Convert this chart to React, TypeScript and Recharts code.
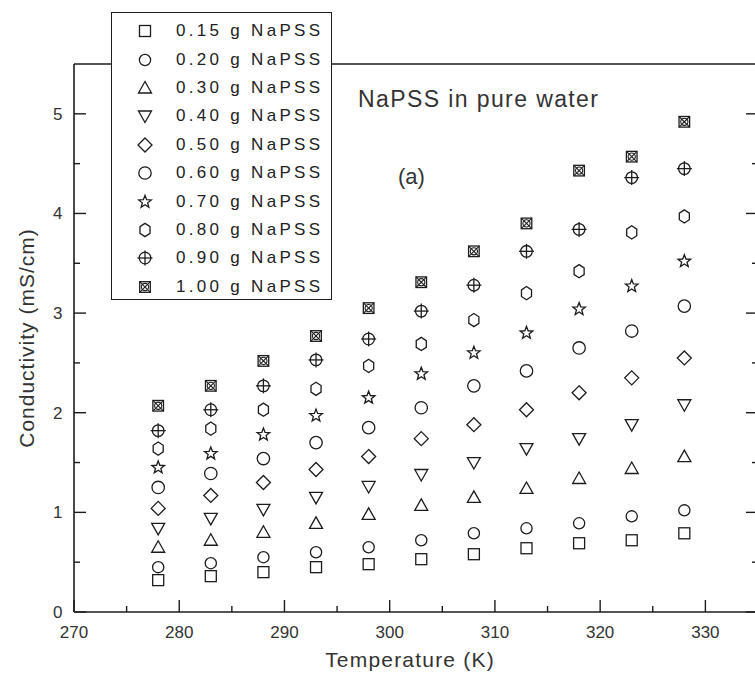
import React from "react";
import { ScatterChart, Scatter, XAxis, YAxis, Legend } from "recharts";

// temperatures (K) at which every sample was measured
const temperatures = [278, 283, 288, 293, 298, 303, 308, 313, 318, 323, 328];

// conductivity (mS/cm), one list per NaPSS amount
const g015 = [0.32, 0.36, 0.4, 0.45, 0.48, 0.53, 0.58, 0.64, 0.69, 0.72, 0.79];
const g020 = [0.45, 0.49, 0.55, 0.6, 0.65, 0.72, 0.79, 0.84, 0.89, 0.96, 1.02];
const g030 = [0.65, 0.72, 0.8, 0.89, 0.98, 1.07, 1.15, 1.24, 1.34, 1.44, 1.56];
const g040 = [0.84, 0.94, 1.03, 1.15, 1.26, 1.38, 1.5, 1.64, 1.74, 1.88, 2.08];
const g050 = [1.04, 1.17, 1.3, 1.43, 1.56, 1.74, 1.88, 2.03, 2.2, 2.35, 2.55];
const g060 = [1.25, 1.39, 1.54, 1.7, 1.85, 2.05, 2.27, 2.42, 2.65, 2.82, 3.07];
const g070 = [1.45, 1.59, 1.78, 1.97, 2.15, 2.39, 2.6, 2.8, 3.04, 3.27, 3.52];
const g080 = [1.64, 1.84, 2.03, 2.24, 2.47, 2.69, 2.93, 3.2, 3.42, 3.81, 3.97];
const g090 = [1.82, 2.03, 2.27, 2.53, 2.74, 3.02, 3.28, 3.62, 3.84, 4.36, 4.45];
const g100 = [2.07, 2.27, 2.52, 2.77, 3.05, 3.31, 3.62, 3.9, 4.43, 4.57, 4.92];

const seriesNames = [
  "0.15 g NaPSS",
  "0.20 g NaPSS",
  "0.30 g NaPSS",
  "0.40 g NaPSS",
  "0.50 g NaPSS",
  "0.60 g NaPSS",
  "0.70 g NaPSS",
  "0.80 g NaPSS",
  "0.90 g NaPSS",
  "1.00 g NaPSS",
];
const seriesValues = [g015, g020, g030, g040, g050, g060, g070, g080, g090, g100];
const markerKinds = [
  "square",
  "circle",
  "triUp",
  "triDown",
  "diamond",
  "circleBig",
  "star",
  "hexagon",
  "circlePlus",
  "circleCross",
];

const xTicks = [270, 275, 280, 285, 290, 295, 300, 305, 310, 315, 320, 325, 330, 335];
const yTicks = [0, 0.5, 1, 1.5, 2, 2.5, 3, 3.5, 4, 4.5, 5];

const INK = "#1c1c1c";
const TEXT = "#333";
const FONT = "'Liberation Sans', Arial, sans-serif";

function Marker({ kind, cx, cy }: { kind: string; cx: number; cy: number }) {
  const st = { fill: "#fff", stroke: INK, strokeWidth: 1.3 };
  const poly = (pts: number[][]) => pts.map((p) => `${cx + p[0]},${cy + p[1]}`).join(" ");
  switch (kind) {
    case "square":
      return <rect x={cx - 5.5} y={cy - 5.5} width={11} height={11} {...st} />;
    case "circle":
      return <circle cx={cx} cy={cy} r={5.6} {...st} />;
    case "circleBig":
      return <circle cx={cx} cy={cy} r={6.2} {...st} />;
    case "triUp":
      return <polygon points={poly([[0, -6.5], [6.5, 5], [-6.5, 5]])} {...st} />;
    case "triDown":
      return <polygon points={poly([[0, 6.5], [6.5, -5], [-6.5, -5]])} {...st} />;
    case "diamond":
      return <polygon points={poly([[0, -7], [7, 0], [0, 7], [-7, 0]])} {...st} />;
    case "hexagon": {
      const pts: number[][] = [];
      for (let k = 0; k < 6; k++) {
        const a = (Math.PI / 3) * k - Math.PI / 2;
        pts.push([5.8 * Math.cos(a), 6.6 * Math.sin(a)]);
      }
      return <polygon points={poly(pts)} {...st} />;
    }
    case "star": {
      const pts: number[][] = [];
      for (let k = 0; k < 10; k++) {
        const a = (Math.PI / 5) * k - Math.PI / 2;
        const r = k % 2 === 0 ? 6.6 : 2.8;
        pts.push([r * Math.cos(a), r * Math.sin(a)]);
      }
      return <polygon points={poly(pts)} {...st} />;
    }
    case "circlePlus":
      return (
        <g>
          <circle cx={cx} cy={cy} r={5.8} {...st} />
          <line x1={cx - 7.5} x2={cx + 7.5} y1={cy} y2={cy} stroke={INK} strokeWidth={1.3} />
          <line x1={cx} x2={cx} y1={cy - 7.5} y2={cy + 7.5} stroke={INK} strokeWidth={1.3} />
        </g>
      );
    case "circleCross":
      return (
        <g>
          <rect x={cx - 5.3} y={cy - 5.3} width={10.6} height={10.6} {...st} />
          <circle cx={cx} cy={cy} r={3.6} fill="none" stroke={INK} strokeWidth={1.1} />
          <line x1={cx - 5.3} x2={cx + 5.3} y1={cy - 5.3} y2={cy + 5.3} stroke={INK} strokeWidth={1.1} />
          <line x1={cx - 5.3} x2={cx + 5.3} y1={cy + 5.3} y2={cy - 5.3} stroke={INK} strokeWidth={1.1} />
        </g>
      );
    default:
      return null;
  }
}

const shapeFor = (kind: string) => (props: any) => <Marker kind={kind} cx={props.cx} cy={props.cy} />;

function BottomTick({ x, y, payload }: any) {
  const major = payload.value % 10 === 0;
  return (
    <g>
      <line x1={x} x2={x} y1={y} y2={y - (major ? 12 : 6)} stroke={INK} strokeWidth={1.4} />
      {major && (
        <text x={x} y={y + 26} textAnchor="middle" fontSize={17} fill={TEXT} fontFamily={FONT}>
          {payload.value}
        </text>
      )}
    </g>
  );
}

// top axis: height 1, so its x/y sit one pixel above the frame line
function TopTick({ x, y, payload }: any) {
  const major = payload.value % 10 === 0;
  return <line x1={x} x2={x} y1={y + 1} y2={y + 1 + (major ? 12 : 6)} stroke={INK} strokeWidth={1.4} />;
}

function LeftTick({ x, y, payload }: any) {
  const major = Number.isInteger(payload.value);
  return (
    <g>
      <line x1={x} x2={x + (major ? 12 : 6)} y1={y} y2={y} stroke={INK} strokeWidth={1.4} />
      {major && (
        <text x={x - 11.5} y={y + 6} textAnchor="end" fontSize={17} fill={TEXT} fontFamily={FONT}>
          {payload.value}
        </text>
      )}
    </g>
  );
}

function RightTick({ x, y, payload }: any) {
  const major = Number.isInteger(payload.value);
  return <line x1={x} x2={x - (major ? 12 : 6)} y1={y} y2={y} stroke={INK} strokeWidth={1.4} />;
}

function LegendBox({ payload }: any) {
  const items = (payload || []).map((p: any) => p.value);
  return (
    <div
      style={{
        width: 221,
        height: 288,
        boxSizing: "border-box",
        border: `1.6px solid ${INK}`,
        background: "#fff",
        paddingTop: 4,
      }}
    >
      {items.map((name: string) => {
        const idx = seriesNames.indexOf(name);
        return (
          <div key={name} style={{ height: 28.4, display: "flex", alignItems: "center" }}>
            <svg width={20} height={20} style={{ marginLeft: 23, flex: "none" }}>
              <Marker kind={markerKinds[idx]} cx={10} cy={10} />
            </svg>
            <span
              style={{
                marginLeft: 21,
                fontFamily: FONT,
                fontSize: 17,
                letterSpacing: 3.3,
                color: "#222",
                whiteSpace: "nowrap",
              }}
            >
              {name}
            </span>
          </div>
        );
      })}
    </div>
  );
}

export default function App() {
  const axisLine = { stroke: INK, strokeWidth: 1.6 };
  return (
    <div
      style={{
        position: "absolute",
        left: 0,
        top: 0,
        width: 755,
        height: 688,
        overflow: "hidden",
        background: "#fff",
      }}
    >
      <ScatterChart width={800} height={688} margin={{ top: 63, right: 41, bottom: 0, left: 0 }}>
        <XAxis
          dataKey="t"
          type="number"
          domain={[270, 335]}
          ticks={xTicks}
          interval={0}
          allowDataOverflow
          height={76}
          tickSize={0}
          tickMargin={0}
          tickLine={false}
          axisLine={axisLine}
          tick={<BottomTick />}
        />
        <XAxis
          xAxisId="top"
          orientation="top"
          type="number"
          domain={[270, 335]}
          ticks={xTicks}
          interval={0}
          allowDataOverflow
          height={1}
          tickSize={0}
          tickMargin={0}
          tickLine={false}
          axisLine={axisLine}
          tick={<TopTick />}
        />
        <YAxis
          dataKey="v"
          type="number"
          domain={[0, 5.5]}
          ticks={yTicks}
          interval={0}
          allowDataOverflow
          width={74}
          tickSize={0}
          tickMargin={0}
          tickLine={false}
          axisLine={axisLine}
          tick={<LeftTick />}
        />
        <YAxis
          yAxisId="right"
          orientation="right"
          type="number"
          domain={[0, 5.5]}
          ticks={yTicks}
          interval={0}
          allowDataOverflow
          width={1}
          tickSize={0}
          tickMargin={0}
          tickLine={false}
          axisLine={axisLine}
          tick={<RightTick />}
        />
        <Legend
          layout="vertical"
          align="center"
          verticalAlign="middle"
          content={<LegendBox />}
          wrapperStyle={{ left: 111, top: 12, width: 221, height: 288 }}
        />
        {seriesNames.map((name, i) => (
          <Scatter
            key={name}
            name={name}
            data={temperatures.map((t, j) => ({ t, v: seriesValues[i][j] }))}
            fill="#fff"
            stroke={INK}
            shape={shapeFor(markerKinds[i])}
            isAnimationActive={false}
          />
        ))}
      </ScatterChart>
      <svg
        width={755}
        height={688}
        style={{ position: "absolute", left: 0, top: 0, pointerEvents: "none" }}
      >
        <text x={358} y={107} fontSize={23} letterSpacing={1.4} fill={TEXT} fontFamily={FONT}>
          NaPSS in pure water
        </text>
        <text x={398} y={184} fontSize={22} fill={TEXT} fontFamily={FONT}>
          (a)
        </text>
        <text
          x={33.5}
          y={338}
          transform="rotate(-90 33.5 338)"
          textAnchor="middle"
          fontSize={21}
          letterSpacing={1}
          fill={TEXT}
          fontFamily={FONT}
        >
          Conductivity (mS/cm)
        </text>
        <text
          x={410}
          y={667}
          textAnchor="middle"
          fontSize={21}
          letterSpacing={1.2}
          fill={TEXT}
          fontFamily={FONT}
        >
          Temperature (K)
        </text>
      </svg>
    </div>
  );
}
